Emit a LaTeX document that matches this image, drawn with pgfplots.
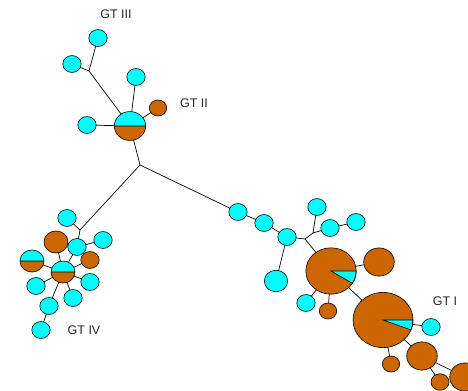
\documentclass[border=0pt]{standalone}
\usepackage{pgfplots}
\pgfplotsset{compat=1.18}
\usepackage{pgfplotstable}
\usepackage{fontspec}
\setmainfont{Liberation Sans}
\definecolor{ncyan}{RGB}{0,255,255}
\definecolor{norange}{RGB}{204,102,0}

\pgfplotstableread{
x y r
98 38 9.2
72 64 9.2
136 77 9.2
87 125 9.2
67 218 9.2
77 247 9.2
103 240 9.2
36 286 9.2
90 282 9.2
73 298 9.2
49 306 9.2
41 330 9.2
238 212 9.2
264 223 9.2
287 237 9.2
317 207 9.2
330 228 9.2
356 222 9.2
276 281 11.7
306 303 9.2
431 327 9.2
}\cyannodes

\pgfplotstableread{
x y r
158 108 8.7
56 242 12
90 260 9.2
379 262 15.3
328 311 8.7
391 364 8.7
422 356 15.3
440 382 9
465 377 15.3
}\orangenodes

\pgfplotstableread{
x y r
130 126 15.7
63 272 12
32 261 12
}\halfnodes

\pgfplotstableread{
x y r a
331 271 25.2 -32
383 320 30 -21
}\pienodes

\def\ry{0.92\pgfplotmarksize}

\pgfdeclareplotmark{ell}{%
  \pgfpathellipse{\pgfpointorigin}{\pgfpoint{\pgfplotmarksize}{0pt}}{\pgfpoint{0pt}{\ry}}%
  \pgfusepath{fill,stroke}%
}

\pgfdeclareplotmark{halfcirc}{%
  \pgfpathmoveto{\pgfpoint{\pgfplotmarksize}{0pt}}%
  \pgfpatharc{0}{180}{\pgfplotmarksize and \ry}%
  \pgfpathclose
  \pgfsetfillcolor{ncyan}\pgfusepath{fill}%
  \pgfpathmoveto{\pgfpoint{-\pgfplotmarksize}{0pt}}%
  \pgfpatharc{180}{360}{\pgfplotmarksize and \ry}%
  \pgfpathclose
  \pgfsetfillcolor{norange}\pgfusepath{fill}%
  \pgfpathellipse{\pgfpointorigin}{\pgfpoint{\pgfplotmarksize}{0pt}}{\pgfpoint{0pt}{\ry}}%
  \pgfpathmoveto{\pgfpoint{-\pgfplotmarksize}{0pt}}%
  \pgfpathlineto{\pgfpoint{\pgfplotmarksize}{0pt}}%
  \pgfusepath{stroke}%
}

\pgfdeclareplotmark{piecirc}{%
  \pgfpathellipse{\pgfpointorigin}{\pgfpoint{\pgfplotmarksize}{0pt}}{\pgfpoint{0pt}{\ry}}%
  \pgfsetfillcolor{norange}\pgfusepath{fill}%
  \pgfpathmoveto{\pgfpointorigin}%
  \pgfpathlineto{\pgfpoint{\pgfplotmarksize}{0pt}}%
  \pgfpatharc{0}{\wedgeang}{\pgfplotmarksize and \ry}%
  \pgfpathclose
  \pgfsetfillcolor{ncyan}\pgfusepath{fill,stroke}%
  \pgfpathellipse{\pgfpointorigin}{\pgfpoint{\pgfplotmarksize}{0pt}}{\pgfpoint{0pt}{\ry}}%
  \pgfusepath{stroke}%
}

\begin{document}
\begin{tikzpicture}
\useasboundingbox (0,0) rectangle (468bp,391bp);
\begin{axis}[
  at={(0,0)}, anchor=south west,
  width=468bp, height=391bp, scale only axis,
  xmin=0, xmax=468, ymin=0, ymax=391, y dir=reverse,
  hide axis,
]
% edges
\addplot[black, line width=0.7pt, unbounded coords=jump, mark=none] coordinates {
(98,38)(89,71) (nan,nan)
(72,64)(89,71) (nan,nan)
(89,71)(130,126) (nan,nan)
(136,77)(130,126) (nan,nan)
(158,108)(130,126) (nan,nan)
(87,125)(130,126) (nan,nan)
(130,126)(140,165) (nan,nan)
(140,165)(80,230) (nan,nan)
(140,165)(238,212) (nan,nan)
(67,218)(80,230) (nan,nan)
(80,230)(77,247) (nan,nan)
(77,247)(103,240) (nan,nan)
(77,247)(63,272) (nan,nan)
(56,242)(63,272) (nan,nan)
(90,260)(63,272) (nan,nan)
(32,261)(63,272) (nan,nan)
(36,286)(63,272) (nan,nan)
(90,282)(63,272) (nan,nan)
(73,298)(63,272) (nan,nan)
(49,306)(63,272) (nan,nan)
(49,306)(41,330) (nan,nan)
(238,212)(264,223) (nan,nan)
(264,223)(287,237) (nan,nan)
(287,237)(305,239) (nan,nan)
(305,239)(313,233) (nan,nan)
(313,233)(317,207) (nan,nan)
(313,233)(330,228) (nan,nan)
(330,228)(356,222) (nan,nan)
(305,239)(331,271) (nan,nan)
(287,237)(276,281) (nan,nan)
(331,271)(379,262) (nan,nan)
(331,271)(306,303) (nan,nan)
(331,271)(328,311) (nan,nan)
(331,271)(383,320) (nan,nan)
(383,320)(431,327) (nan,nan)
(383,320)(391,364) (nan,nan)
(383,320)(422,356) (nan,nan)
(422,356)(440,382) (nan,nan)
(422,356)(465,377)
};
% plain nodes
\addplot[scatter, only marks, mark=ell, line width=0.6pt,
  scatter/use mapped color={draw=black, fill=ncyan},
  visualization depends on={\thisrow{r} \as \nrad},
  scatter/@pre marker code/.append style={/tikz/mark size=\nrad bp}]
  table[x=x, y=y] {\cyannodes};
\addplot[scatter, only marks, mark=ell, line width=0.6pt,
  scatter/use mapped color={draw=black, fill=norange},
  visualization depends on={\thisrow{r} \as \nrad},
  scatter/@pre marker code/.append style={/tikz/mark size=\nrad bp}]
  table[x=x, y=y] {\orangenodes};
\addplot[scatter, only marks, mark=halfcirc, line width=0.6pt,
  scatter/use mapped color={draw=black},
  visualization depends on={\thisrow{r} \as \nrad},
  scatter/@pre marker code/.append style={/tikz/mark size=\nrad bp}]
  table[x=x, y=y] {\halfnodes};
\addplot[scatter, only marks, mark=piecirc, line width=0.6pt,
  scatter/use mapped color={draw=black},
  visualization depends on={\thisrow{r} \as \nrad},
  visualization depends on={\thisrow{a} \as \wedgeang},
  scatter/@pre marker code/.append style={/tikz/mark size=\nrad bp}]
  table[x=x, y=y] {\pienodes};
% labels
\node[font=\fontsize{12.5bp}{14bp}\selectfont, text=black!85] at (axis cs:116,14) {GT III};
\node[font=\fontsize{12.5bp}{14bp}\selectfont, text=black!85] at (axis cs:194,103) {GT II};
\node[font=\fontsize{12.5bp}{14bp}\selectfont, text=black!85] at (axis cs:84,330) {GT IV};
\node[font=\fontsize{12.5bp}{14bp}\selectfont, text=black!85] at (axis cs:445,301) {GT I};
\end{axis}
\end{tikzpicture}
\end{document}
